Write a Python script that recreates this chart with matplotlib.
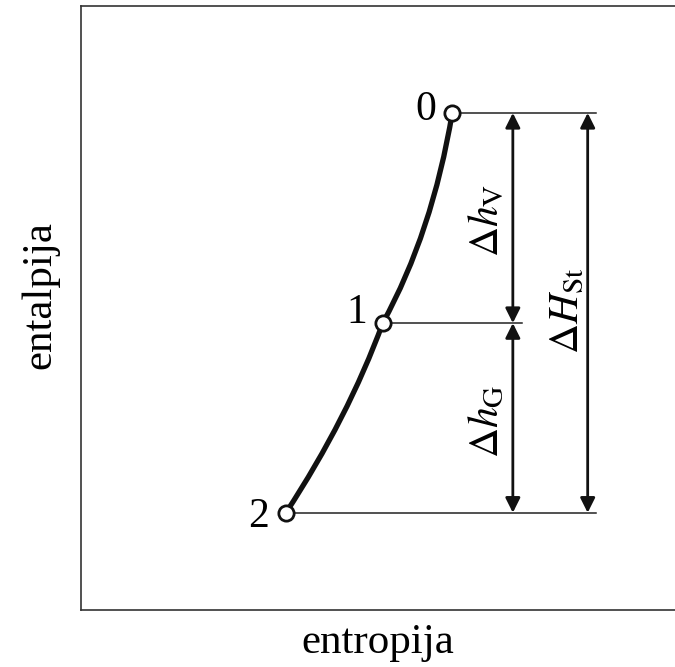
"""h-s diagram of a turbine stage: expansion 0 -> 1 -> 2."""

import matplotlib
matplotlib.use("Agg")
import matplotlib.pyplot as plt
from matplotlib.patches import PathPatch
from matplotlib.path import Path

plt.rcParams["font.family"] = ["Liberation Serif", "DejaVu Serif"]
plt.rcParams["mathtext.fontset"] = "stix"

# state points (entropy, enthalpy), arbitrary units
point_labels = ["0", "1", "2"]
point_s = [0.625, 0.508, 0.345]
point_h = [0.823, 0.475, 0.161]

# expansion line: start, middle, end of stator (0 -> 1) and rotor (1 -> 2)
stator_s = [0.625, 0.579, 0.508]
stator_h = [0.823, 0.637, 0.475]
rotor_s = [0.508, 0.438, 0.345]
rotor_h = [0.475, 0.318, 0.161]

# right end of the horizontal guide lines
guide_end = [0.867, 0.742, 0.867]


def smooth_segment(ax, s, h):
    """Quadratic Bezier through start, middle and end point."""
    cs = 2 * s[1] - (s[0] + s[2]) / 2
    ch = 2 * h[1] - (h[0] + h[2]) / 2
    path = Path([(s[0], h[0]), (cs, ch), (s[2], h[2])],
                [Path.MOVETO, Path.CURVE3, Path.CURVE3])
    ax.add_patch(PathPatch(path, fill=False, edgecolor="#111111",
                           lw=3.8, capstyle="butt", zorder=3))


fig = plt.figure(figsize=(6.75, 6.67), dpi=100)
ax = fig.add_axes([81 / 675, 57 / 667, 1 - 81 / 675, 604 / 667])
ax.set_xlim(0, 1)
ax.set_ylim(0, 1)
ax.set_xticks([])
ax.set_yticks([])
ax.spines["right"].set_visible(False)
for side in ("left", "top", "bottom"):
    ax.spines[side].set_linewidth(1.2)
    ax.spines[side].set_color("#333333")

for s, h, x_end in zip(point_s, point_h, guide_end):
    ax.plot([s, x_end], [h, h], color="#222222", lw=1.1, zorder=2)

smooth_segment(ax, stator_s, stator_h)
smooth_segment(ax, rotor_s, rotor_h)
ax.plot(point_s, point_h, "o", ms=11, mfc="white", mec="#111111",
        mew=2.0, zorder=4)

label_offsets = [(-19, -5), (-19, 0), (-20, -10)]
for lab, s, h, off in zip(point_labels, point_s, point_h, label_offsets):
    ax.annotate(lab, (s, h), xytext=off, textcoords="offset points",
                ha="center", va="baseline", fontsize=30)

# dimension arrows
x_inner = 0.727
x_outer = 0.853
arrow_kw = dict(arrowstyle="<|-|>", color="#111111", lw=2.0,
                mutation_scale=22, shrinkA=0, shrinkB=0)
ax.annotate("", xy=(x_inner, point_h[0]), xytext=(x_inner, point_h[1]),
            arrowprops=arrow_kw)
ax.annotate("", xy=(x_inner, point_h[1]), xytext=(x_inner, point_h[2]),
            arrowprops=arrow_kw)
ax.annotate("", xy=(x_outer, point_h[0]), xytext=(x_outer, point_h[2]),
            arrowprops=arrow_kw)

ax.text(0.685, 0.645, r"$\Delta h_{\mathrm{V}}$", rotation=90,
        ha="center", va="center", fontsize=30)
ax.text(0.685, 0.313, r"$\Delta h_{\mathrm{G}}$", rotation=90,
        ha="center", va="center", fontsize=30)
ax.text(0.820, 0.495, r"$\Delta H_{\mathrm{St}}$", rotation=90,
        ha="center", va="center", fontsize=30)

fig.text(378 / 675, 1 - 643 / 667, "entropija", ha="center", va="center",
         fontsize=31)
fig.text(40 / 675, 1 - 295 / 667, "entalpija", ha="center", va="center",
         rotation=90, fontsize=31)

fig.savefig("out.png", dpi=100)
